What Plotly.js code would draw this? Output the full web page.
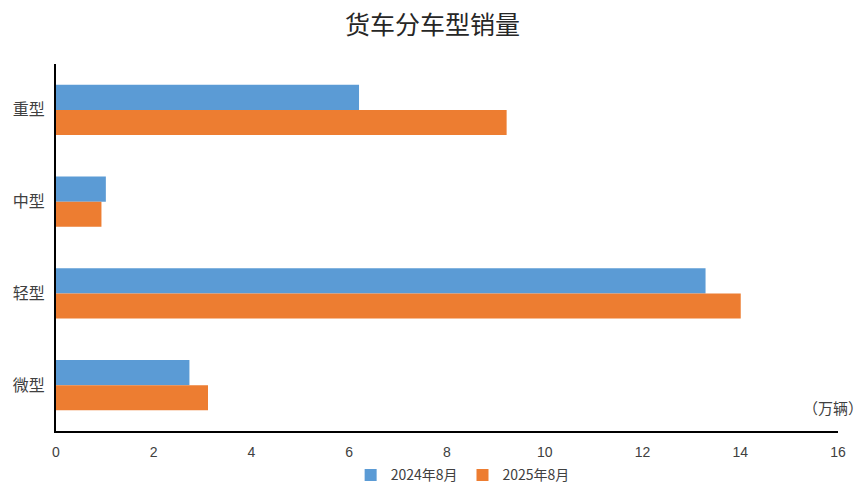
<!DOCTYPE html>
<html>
<head>
<meta charset="utf-8">
<script src="https://cdn.plot.ly/plotly-3.0.1.min.js"></script>
<style>html,body{margin:0;padding:0;background:#fff;}#chart{width:865px;height:485px;}</style>
</head>
<body>
<div id="chart"></div>
<script>
const categories = ["重型", "中型", "轻型", "微型"];
const series2024 = [6.20, 1.02, 13.29, 2.73];
const series2025 = [9.22, 0.93, 14.01, 3.11];
const seriesNames = ["2024年8月", "2025年8月"];
const xTicks = [0, 2, 4, 6, 8, 10, 12, 14, 16];

const cjk = '"Noto Sans CJK SC", "Liberation Sans", sans-serif';

const traces = [
  {type: 'bar', orientation: 'h', name: seriesNames[0], y: categories, x: series2024,
   marker: {color: '#5b9bd5'}, hoverinfo: 'x+y'},
  {type: 'bar', orientation: 'h', name: seriesNames[1], y: categories, x: series2025,
   marker: {color: '#ed7d31'}, hoverinfo: 'x+y'}
];

const layout = {
  width: 865, height: 485,
  margin: {l: 56, r: 27, t: 64, b: 54, autoexpand: false},
  paper_bgcolor: '#fff', plot_bgcolor: '#fff',
  barmode: 'group', bargap: 0.455, bargroupgap: 0,
  title: {text: '货车分车型销量', x: 0.5, xanchor: 'center', y: 0.947, yanchor: 'middle',
          font: {family: cjk, size: 25, color: '#262626'}},
  xaxis: {range: [0, 16], tickvals: xTicks, ticktext: xTicks.map(String),
          showgrid: false, zeroline: false, showline: true, linecolor: '#000', linewidth: 2,
          ticks: '', ticklen: 0, ticklabelstandoff: 7,
          tickfont: {family: '"Liberation Sans", sans-serif', size: 14, color: '#404040'},
          fixedrange: true, automargin: false},
  yaxis: {type: 'category', autorange: 'reversed', showgrid: false, zeroline: false,
          showline: true, linecolor: '#000', linewidth: 2, ticks: '',
          tickfont: {family: cjk, size: 16, color: '#404040'}, ticklabelstandoff: 6, fixedrange: true,
          automargin: false},
  legend: {orientation: 'h', x: 0.52, xanchor: 'center', yref: 'container', y: 0.02, yanchor: 'middle',
           font: {family: cjk, size: 14, color: '#404040'}, itemwidth: 30, tracegroupgap: 0},
  annotations: [{text: '（万辆）', xref: 'paper', yref: 'paper', x: 1.035, y: 0.065,
                 xanchor: 'right', yanchor: 'middle', showarrow: false,
                 font: {family: cjk, size: 15, color: '#404040'}}],
  showlegend: true
};

Plotly.newPlot('chart', traces, layout, {displayModeBar: false, staticPlot: true});
</script>
</body>
</html>
